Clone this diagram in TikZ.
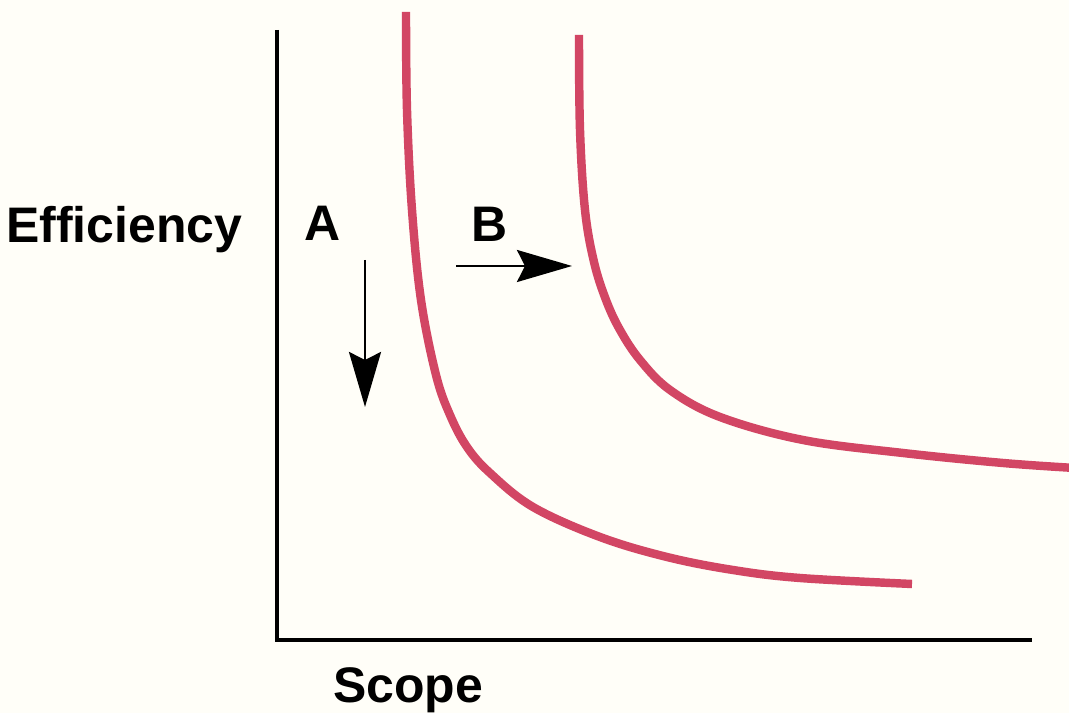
\documentclass[tikz,border=0pt]{standalone}
\usepackage{fontspec}
\setmainfont{Liberation Sans}
\usetikzlibrary{arrows.meta, positioning}
\definecolor{curvered}{RGB}{210,70,100}
\definecolor{paper}{RGB}{255,254,248}

\begin{document}
\begin{tikzpicture}[x=0.01cm, y=-0.01cm,
    axis/.style={line width=1.2pt, line join=miter},
    shiftarrow/.style={line width=0.7pt, -{Stealth[length=5.5mm, width=3.2mm, inset=0.8mm]}},
    curve/.style={draw=curvered, line width=2.4pt},
    lab/.style={font=\bfseries\fontsize{14.2}{16}\selectfont, inner sep=0pt, anchor=base}
]
\useasboundingbox (0,0) rectangle (1069,713);
\fill[paper] (0,0) rectangle (1069,713);

% Axes
\coordinate (ytop) at (277,30);
\coordinate (origin) at (277,640);
\coordinate (xend) at (1032,640);
\draw[axis] (ytop) -- (origin) -- (xend);

% Labels
\node[lab, anchor=base east] (effLabel) at (243,243) {Efficiency};
\node[lab] (scopeLabel) at (408,703) {Scope};
\node[lab] (aLabel) at (323,241) {A};
\node[lab] (bLabel) at (490,242) {B};

% Curves
\draw[curve] plot[smooth, tension=0.6] coordinates {
    (406,12) (407,110) (412,210) (421,300) (436,375) (450,415) (467,447)
    (490,473) (533,507) (600,537) (667,557) (733,570) (800,578) (912,584)};
\draw[curve] plot[smooth, tension=0.6] coordinates {
    (579,35) (580,130) (585,210) (594,262) (606,300) (620,330) (640,360)
    (670,390) (720,417) (803,440) (903,453) (1003,463) (1075,468)};

% Shifts
\coordinate (aStart) at (365,260);
\coordinate (aEnd) at (365,407);
\coordinate (bStart) at (456,266);
\coordinate (bEnd) at (572,266);
\draw[shiftarrow] (aStart) -- (aEnd);
\draw[shiftarrow] (bStart) -- (bEnd);

\end{tikzpicture}
\end{document}
